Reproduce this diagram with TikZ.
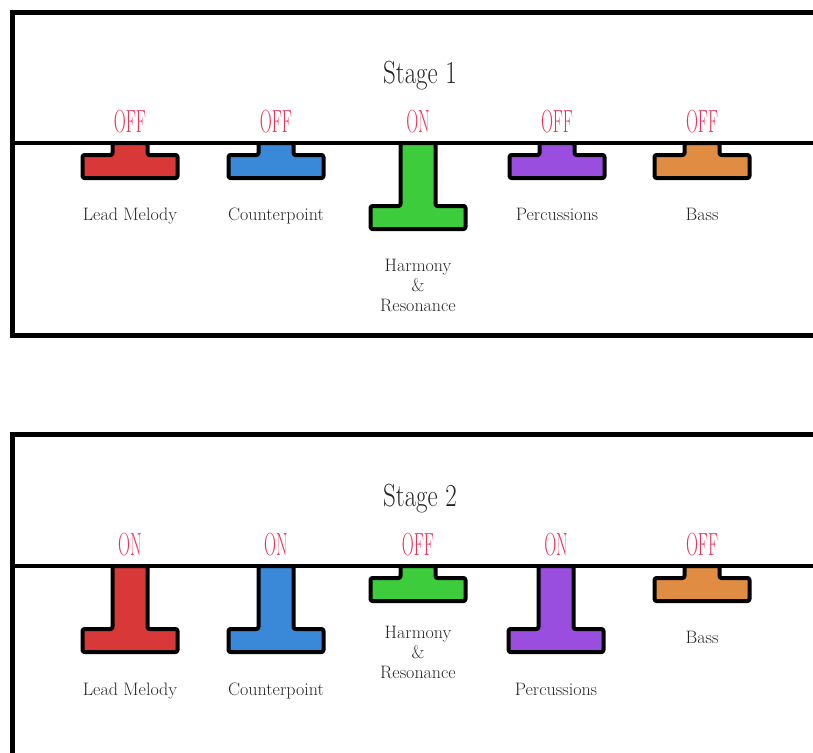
\documentclass[tikz,border=0pt]{standalone}
\usepackage{fontspec}
\newfontfamily\switchfont[FakeStretch=0.52]{Latin Modern Roman}
\newfontfamily\stagefont[FakeStretch=0.78]{Latin Modern Roman}
\usetikzlibrary{positioning}

\definecolor{leadred}{HTML}{D93838}
\definecolor{counterblue}{HTML}{3A88D8}
\definecolor{harmgreen}{HTML}{3CCC3C}
\definecolor{percpurple}{HTML}{9A4EE0}
\definecolor{bassorange}{HTML}{E08C42}
\definecolor{statepink}{HTML}{E8345A}
\definecolor{labelgray}{HTML}{262626}

\begin{document}
\begin{tikzpicture}[
  x=1pt, y=-1pt,
  %% Frame styles
  frame/.style={draw=black, line width=5pt},
  divider/.style={draw=black, line width=3.5pt},
  knob/.style={draw=black, line width=4pt, rounded corners=2pt, line join=round},
  %% Text styles
  stagetitle/.style={inner sep=0pt, anchor=base, text=labelgray,
    font=\stagefont\fontsize{32}{36}\selectfont},
  statelabel/.style={inner sep=0pt, anchor=base, text=statepink,
    font=\switchfont\fontsize{32}{36}\selectfont},
  partlabel/.style={inner sep=0pt, text=labelgray, align=center,
    font=\fontsize{18}{20}\selectfont},
]
\useasboundingbox (0,0) rectangle (813,752);

%% ── STAGE 1 ───────────────────────────────────────────────────────────────
\draw[frame] (840,12.5) -- (12.5,12.5) -- (12.5,335) -- (840,335);
\node[stagetitle] (title1) at (420,83) {Stage 1};

% off knobs
\foreach \cx/\col in {130/leadred, 276/counterblue, 557/percpurple, 702/bassorange}
  \draw[knob, fill=\col] (\cx-17.5,143) -- ++(0,12) -- ++(-30,0) -- ++(0,23)
    -- ++(95,0) -- ++(0,-23) -- ++(-30,0) -- ++(0,-12) -- cycle;
% on knob
\draw[knob, fill=harmgreen] (418-17.5,143) -- ++(0,63) -- ++(-30,0) -- ++(0,23)
  -- ++(95,0) -- ++(0,-23) -- ++(-30,0) -- ++(0,-63) -- cycle;

\draw[divider] (12.5,143) -- (840,143);

\node[statelabel] (lead1s)    at (130,132) {OFF};
\node[statelabel] (counter1s) at (276,132) {OFF};
\node[statelabel] (harm1s)    at (418,132) {ON};
\node[statelabel] (perc1s)    at (557,132) {OFF};
\node[statelabel] (bass1s)    at (702,132) {OFF};

\node[partlabel, anchor=base]  (lead1)    at (130,220) {Lead Melody};
\node[partlabel, anchor=base]  (counter1) at (276,220) {Counterpoint};
\node[partlabel, anchor=north] (harm1)    at (418,259.5) {Harmony\\\&\\Resonance};
\node[partlabel, anchor=base]  (perc1)    at (557,220) {Percussions};
\node[partlabel, anchor=base]  (bass1)    at (702,220) {Bass};

%% ── STAGE 2 ───────────────────────────────────────────────────────────────
\draw[frame] (840,434.5) -- (12.5,434.5) -- (12.5,780);
\node[stagetitle] (title2) at (420,506) {Stage 2};

% on knobs
\foreach \cx/\col in {130/leadred, 276/counterblue, 556/percpurple}
  \draw[knob, fill=\col] (\cx-17.5,566) -- ++(0,63) -- ++(-30,0) -- ++(0,23)
    -- ++(95,0) -- ++(0,-23) -- ++(-30,0) -- ++(0,-63) -- cycle;
% off knobs
\foreach \cx/\col in {418/harmgreen, 702/bassorange}
  \draw[knob, fill=\col] (\cx-17.5,566) -- ++(0,12) -- ++(-30,0) -- ++(0,23)
    -- ++(95,0) -- ++(0,-23) -- ++(-30,0) -- ++(0,-12) -- cycle;

\draw[divider] (12.5,566) -- (840,566);

\node[statelabel] (lead2s)    at (130,555) {ON};
\node[statelabel] (counter2s) at (276,555) {ON};
\node[statelabel] (harm2s)    at (418,555) {OFF};
\node[statelabel] (perc2s)    at (556,555) {ON};
\node[statelabel] (bass2s)    at (702,555) {OFF};

\node[partlabel, anchor=base]  (lead2)    at (130,695) {Lead Melody};
\node[partlabel, anchor=base]  (counter2) at (276,695) {Counterpoint};
\node[partlabel, anchor=north] (harm2)    at (418,625.5) {Harmony\\\&\\Resonance};
\node[partlabel, anchor=base]  (perc2)    at (556,695) {Percussions};
\node[partlabel, anchor=base]  (bass2)    at (702,643) {Bass};

\end{tikzpicture}
\end{document}
